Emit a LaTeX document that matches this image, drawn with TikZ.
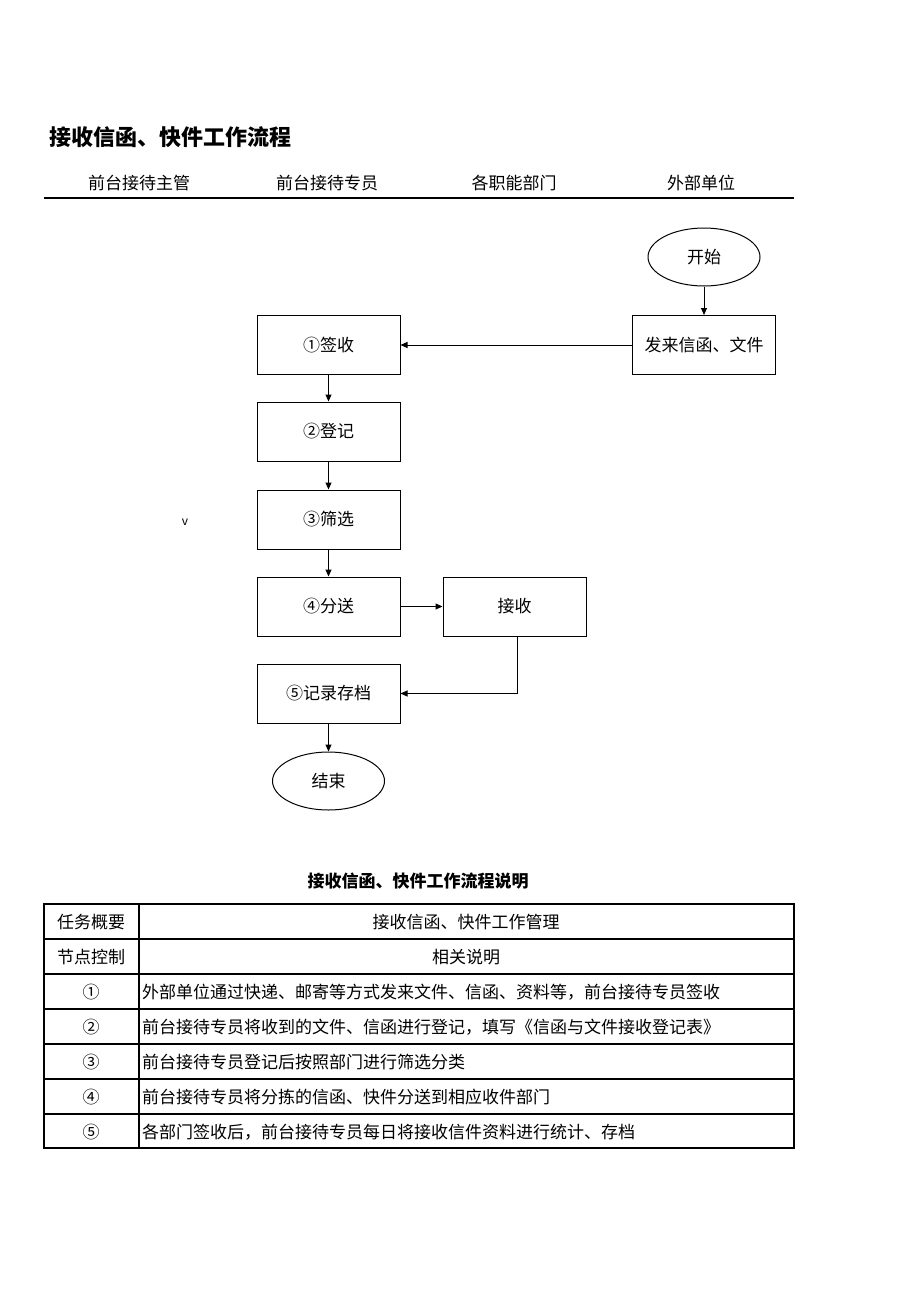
\documentclass[tikz,border=0pt]{standalone}
\usepackage{fontspec}
\setmainfont{Noto Sans CJK SC}
\usepackage{tikz}
\usetikzlibrary{positioning}
\usetikzlibrary{arrows.meta}
\usetikzlibrary{shapes.geometric}

\tikzset{
  box/.style={draw, line width=1pt, minimum width=143pt, minimum height=59pt, inner sep=0pt, font=\fontsize{17}{20}\selectfont},
  term/.style={draw, ellipse, line width=1pt, minimum width=112pt, minimum height=58pt, inner sep=0pt, font=\fontsize{17}{20}\selectfont},
  flow/.style={-{Triangle[length=7pt,width=6pt]}, line width=1pt},
  lane/.style={font=\fontsize{17}{20}\selectfont},
  cell/.style={font=\fontsize{17}{20}\selectfont, inner sep=0pt},
}

\begin{document}
\begin{tikzpicture}[x=1pt,y=-1pt]
            \useasboundingbox (0,0) rectangle (920,1301);

            % title and lanes
            \node[anchor=west, font=\fontsize{22}{26}\selectfont\bfseries] (title) at (46,137) {接收信函、快件工作流程};
            \node[lane] (ln1) at (139,183) {前台接待主管};
            \node[lane] (ln2) at (327,183) {前台接待专员};
            \node[lane] (ln3) at (514,183) {各职能部门};
            \node[lane] (ln4) at (701,183) {外部单位};
            \draw[line width=2pt] (44,198) -- (794,198);

            % flow
            \node[term] (start) at (704,257) {开始};
            \node[box] (send) at (704,345) {发来信函、文件};
            \node[box] (s1) at (328.5,345) {①签收};
            \node[box] (s2) at (328.5,431.5) {②登记};
            \node[box] (s3) at (328.5,519.5) {③筛选};
            \node[box] (s4) at (328.5,606.5) {④分送};
            \node[box] (recv) at (514.5,606.5) {接收};
            \node[box] (s5) at (328.5,693.5) {⑤记录存档};
            \node[term] (stop) at (328.5,781) {结束};
            \node[font=\fontsize{12}{14}\selectfont] (vmark) at (185,522) {v};

            \draw[flow] (start) -- (send);
            \draw[flow] (send) -- (s1);
            \draw[flow] (s1) -- (s2);
            \draw[flow] (s2) -- (s3);
            \draw[flow] (s3) -- (s4);
            \draw[flow] (s4) -- (recv);
            \draw[flow] ([xshift=2.5pt] recv.south) |- (s5.east);
            \draw[flow] (s5) -- (stop);

            % table
            \node[font=\fontsize{17}{20}\selectfont\bfseries] (ttl) at (418,881) {接收信函、快件工作流程说明};
            \draw[line width=1.5pt] (44,904) rectangle (794,1148);
            \draw[line width=1.5pt] (139,904) -- (139,1148);
            \foreach \y in {939,974,1009,1044,1079,1114}
              \draw[line width=1.5pt] (44,\y) -- (794,\y);

            \node[cell] (k0) at (91,922) {任务概要};
            \node[cell] (v0) at (466,922) {接收信函、快件工作管理};
            \node[cell] (k1) at (91,957) {节点控制};
            \node[cell] (v1) at (466,957) {相关说明};
            \node[cell] (k2) at (91,992) {①};
            \node[cell, anchor=west] (v2) at (142,992) {外部单位通过快递、邮寄等方式发来文件、信函、资料等，前台接待专员签收};
            \node[cell] (k3) at (91,1027) {②};
            \node[cell, anchor=west] (v3) at (142,1027) {前台接待专员将收到的文件、信函进行登记，填写《信函与文件接收登记表》};
            \node[cell] (k4) at (91,1062) {③};
            \node[cell, anchor=west] (v4) at (142,1062) {前台接待专员登记后按照部门进行筛选分类};
            \node[cell] (k5) at (91,1097) {④};
            \node[cell, anchor=west] (v5) at (142,1097) {前台接待专员将分拣的信函、快件分送到相应收件部门};
            \node[cell] (k6) at (91,1132) {⑤};
            \node[cell, anchor=west] (v6) at (142,1132) {各部门签收后，前台接待专员每日将接收信件资料进行统计、存档};
        \end{tikzpicture}
\end{document}
